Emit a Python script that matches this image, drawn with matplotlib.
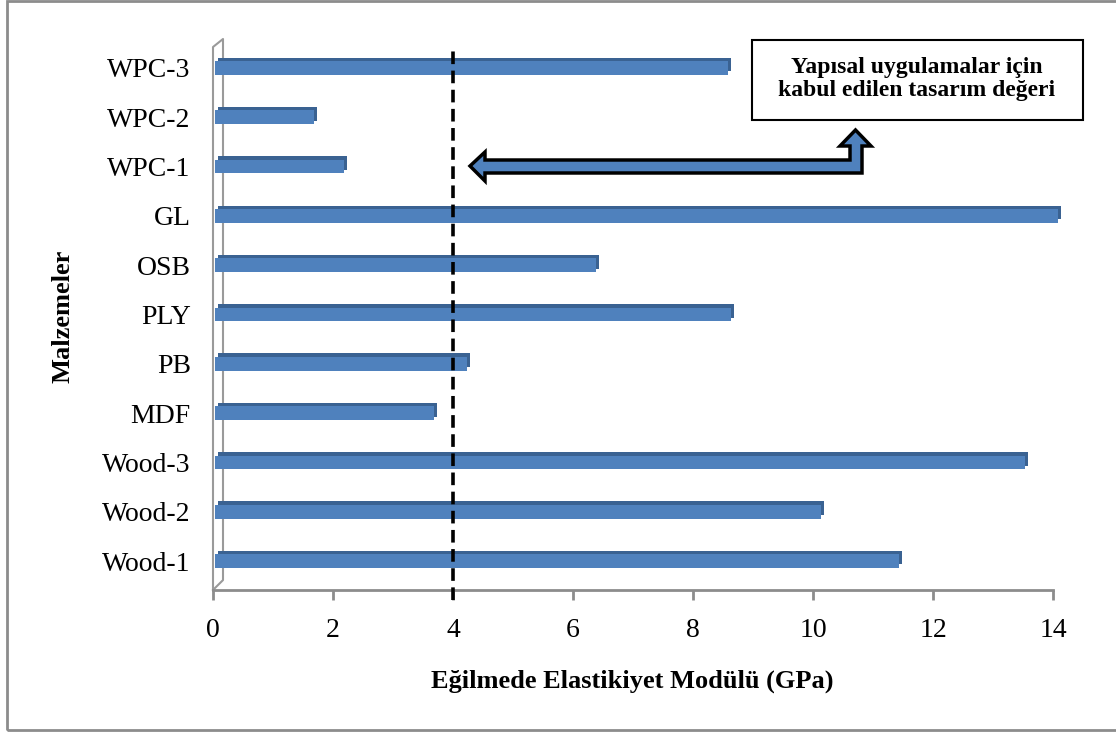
import matplotlib
matplotlib.use("Agg")
import matplotlib.pyplot as plt
from matplotlib.patches import Rectangle, Polygon

# values (GPa)
materials = ["Wood-1", "Wood-2", "Wood-3", "MDF", "PB", "PLY", "OSB", "GL", "WPC-1", "WPC-2", "WPC-3"]
moe_values = [11.4, 10.1, 13.5, 3.65, 4.2, 8.6, 6.35, 14.05, 2.15, 1.65, 8.55]
x_ticks = [0, 2, 4, 6, 8, 10, 12, 14]
design_value = 4

W, H = 1116, 733
plt.rcParams['font.family'] = ['Liberation Serif', 'DejaVu Serif']

fig = plt.figure(figsize=(W / 100, H / 100), dpi=100)

def px(x, y):
    # pixel position (y down) -> figure fraction
    return x / W, 1 - y / H

ax_l, ax_r, ax_t, ax_b = 213, 1053, 39, 590
ax = fig.add_axes([ax_l / W, 1 - ax_b / H, (ax_r - ax_l) / W, (ax_b - ax_t) / H])

ypos = list(range(len(materials)))
bar_h = 0.28
# 3D look: darker copy shifted up/right, then front face
ax.barh([y + 0.07 for y in ypos], moe_values, height=bar_h, left=0.08, color="#3A6292",
        zorder=2, clip_on=False)
ax.barh(ypos, moe_values, height=bar_h, left=0.03, color="#4F81BD", zorder=3, clip_on=False)

ax.set_xlim(0, 14)
ax.set_ylim(-0.588, len(materials) - 1 + 0.588)
ax.set_xticks(x_ticks)
ax.set_yticks(ypos)
ax.set_yticklabels(materials)
ax.tick_params(axis="x", direction="out", length=7, width=2, color="#8C8C8C", labelsize=20, pad=13)
ax.tick_params(axis="y", length=0, labelsize=20, pad=16)
for s in ["top", "right", "left"]:
    ax.spines[s].set_visible(False)
ax.spines["bottom"].set_color("#8C8C8C")
ax.spines["bottom"].set_linewidth(2)

# left wall
wx = 10 / (ax_r - ax_l)
wall_col = "#9A9A9A"
ax.plot([0, 0, wx, wx, 0], [0, 0.9855, 1.0, 0.018, 0], transform=ax.transAxes,
        color=wall_col, lw=1.5, clip_on=False, zorder=1)

# design threshold line
ax.plot([design_value, design_value], [-0.79, 10.37], color="black", lw=2.6,
        linestyle=(0, (3.5, 1.8)), clip_on=False, zorder=4)

# axis labels
fig.text(*px(632, 681), "Eğilmede Elastikiyet Modülü (GPa)", ha="center", va="center",
         fontsize=19, fontweight="bold")
fig.text(*px(63, 316), "Malzemeler", ha="center", va="center", rotation=90,
         fontsize=19, fontweight="bold")

# annotation box
bx0, by0, bx1, by1 = 752, 40, 1083, 120
fig.patches.append(Rectangle(px(bx0, by1), (bx1 - bx0) / W, (by1 - by0) / H,
                             transform=fig.transFigure, facecolor="white",
                             edgecolor="black", lw=1.5))
fig.text(*px(917, 79), "Yapısal uygulamalar için\nkabul edilen tasarım değeri",
         ha="center", va="center", fontsize=17, fontweight="bold", linespacing=1.15)

# bent double arrow
arrow_pts = [(470, 166), (485, 152), (485, 160), (850, 160), (850, 146), (840, 146),
             (855.5, 130), (871, 146), (862, 146), (862, 173), (485, 173), (485, 181)]
fig.patches.append(Polygon([px(x, y) for x, y in arrow_pts], closed=True,
                           transform=fig.transFigure, facecolor="#4F81BD",
                           edgecolor="black", lw=2.5, joinstyle="miter"))

# outer frame
fig.patches.append(Rectangle(px(7, 730), (W + 10) / W, 729 / H, transform=fig.transFigure,
                             facecolor="none", edgecolor="#8C8C8C", lw=2))

fig.savefig("out.png", dpi=100)
